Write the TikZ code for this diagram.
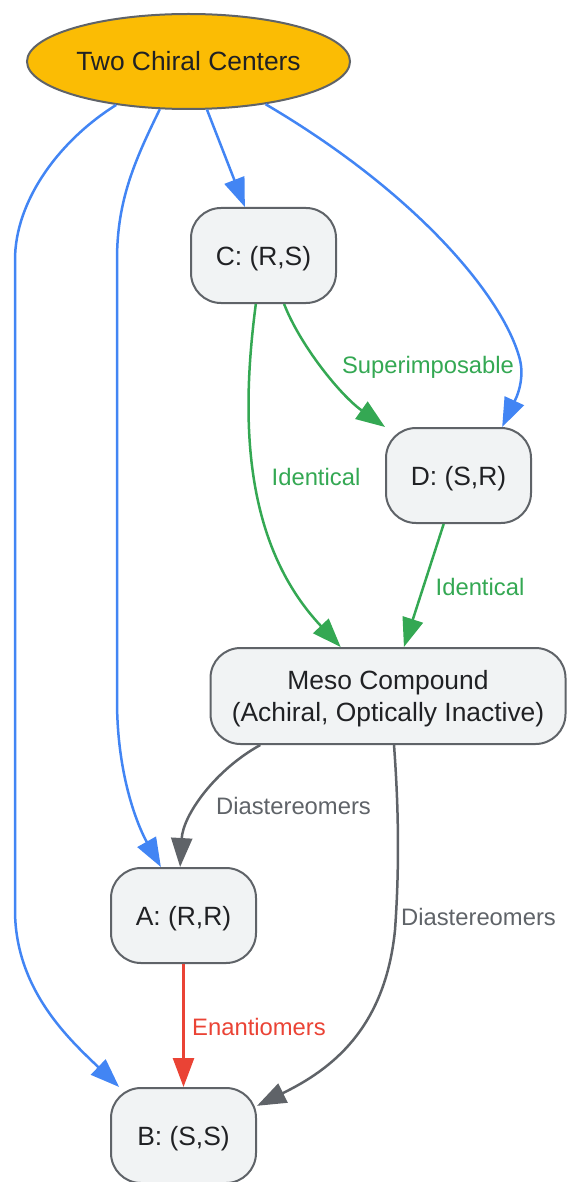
\documentclass[tikz,border=0pt]{standalone}
\usepackage{fontspec}
\setmainfont{Liberation Sans}
\usetikzlibrary{shapes.geometric,arrows.meta}
\definecolor{gblue}{HTML}{4285F4}
\definecolor{ggreen}{HTML}{34A853}
\definecolor{gred}{HTML}{EA4335}
\definecolor{ggrey}{HTML}{5F6368}
\definecolor{gyellow}{HTML}{FBBC04}
\definecolor{boxfill}{HTML}{F1F3F4}
\definecolor{ink}{HTML}{202124}

\begin{document}
\begin{tikzpicture}[x=1pt,y=1pt,yscale=-1,
	chiral/.style={ellipse, draw=ggrey, line width=2pt, fill=gyellow, minimum width=323pt, minimum height=95pt, inner sep=0pt, text=ink, font=\fontsize{26.4}{32}\selectfont},
	isomer/.style={draw=ggrey, line width=2pt, fill=boxfill, rounded corners=30pt, minimum width=145pt, minimum height=95pt, inner sep=0pt, text depth=0pt, text=ink, align=center, font=\fontsize{26.4}{32}\selectfont},
	link/.style={line width=2.5pt, -{Triangle[length=29pt,width=21pt]}},
	lbl/.style={inner sep=0pt, font=\fontsize{23.8}{28}\selectfont}]
	\useasboundingbox (0,0) rectangle (566,1182);
	% nodes
	\node[chiral] (top) at (188.5,61.5) {Two Chiral Centers};
	\node[isomer] (C) at (263.5,255.5) {C: (R,S)};
	\node[isomer] (D) at (458.5,475.5) {D: (S,R)};
	\node[isomer, minimum width=355pt, minimum height=96pt] (M) at (388,696) {Meso Compound\\(Achiral, Optically Inactive)};
	\node[isomer] (A) at (183.5,915.5) {A: (R,R)};
	\node[isomer] (B) at (183.5,1135.5) {B: (S,S)};
	% from the two chiral centers
	\draw[link, gblue] (top.211) .. controls (60,140) and (15,200) .. (15,260) -- (15,910) .. controls (15,990) and (70,1040) .. (B.143);
	\draw[link, gblue] (top.239) .. controls (135,160) and (117,200) .. (117,260) -- (117,700) .. controls (117,780) and (140,830) .. (A.115);
	\draw[link, gblue] (top.291) -- (C.111);
	\draw[link, gblue] (top.331) .. controls (420,195) and (505,300) .. (520,360) .. controls (526,385) and (511,408) .. (D.48);
	% relations
	\draw[link, ggreen] (C.293) .. controls (300,345) and (340,395) .. (D.north west);
	\draw[link, ggreen] (C.261) .. controls (242,410) and (240,540) .. (M.134);
	\draw[link, ggreen] (D.253) -- (M.72);
	\draw[link, ggrey] (M.201) .. controls (215,770) and (183,815) .. (A.94);
	\draw[link, ggrey] (M.277) .. controls (398,800) and (400,860) .. (395,930) .. controls (385,1030) and (330,1070) .. (B.22);
	\draw[link, gred] (A) -- (B);
	% labels
	\node[lbl, text=ggreen] (lsup) at (428,367) {Superimposable};
	\node[lbl, text=ggreen] (lidc) at (316,477) {Identical};
	\node[lbl, text=ggreen] (lidd) at (480,587) {Identical};
	\node[lbl, text=ggrey] (ldiaa) at (293.5,806) {Diastereomers};
	\node[lbl, text=ggrey] (ldiab) at (478.5,917) {Diastereomers};
	\node[lbl, text=gred] (lena) at (259,1027) {Enantiomers};
\end{tikzpicture}
\end{document}
